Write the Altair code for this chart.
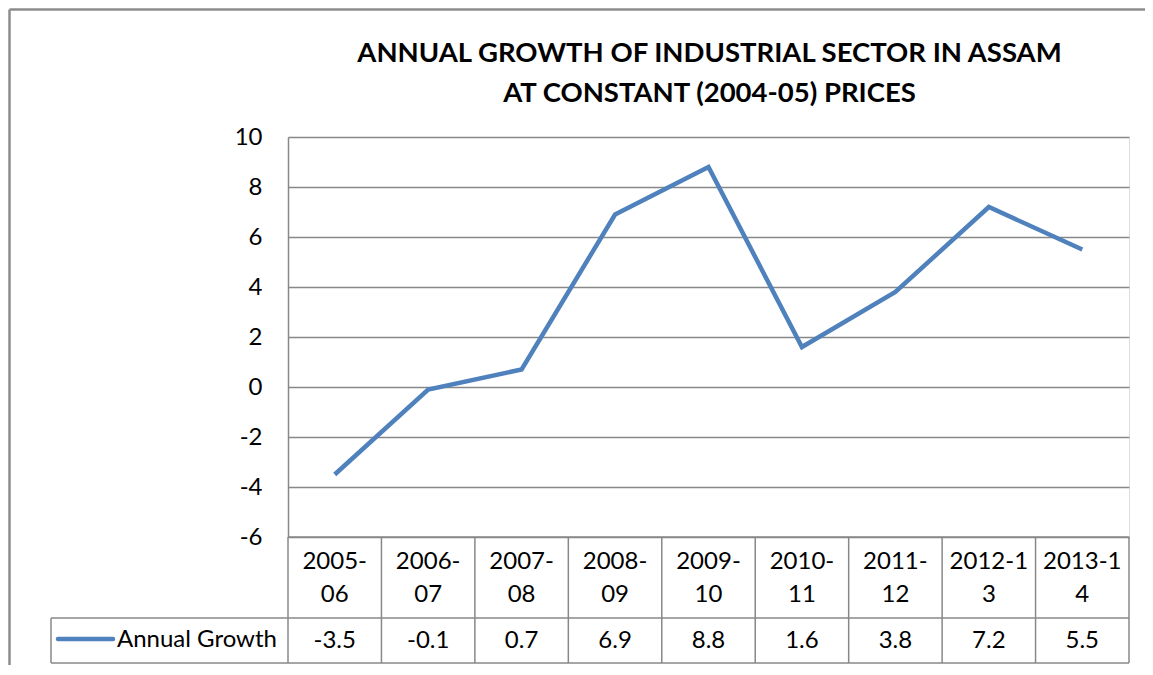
import altair as alt
import pandas as pd

# ---- data ----
years = ["2005-06", "2006-07", "2007-08", "2008-09", "2009-10",
         "2010-11", "2011-12", "2012-13", "2013-14"]
year_labels = ["2005-\n06", "2006-\n07", "2007-\n08", "2008-\n09", "2009-\n10",
               "2010-\n11", "2011-\n12", "2012-1\n3", "2013-1\n4"]
growth = [-3.5, -0.1, 0.7, 6.9, 8.8, 1.6, 3.8, 7.2, 5.5]
series_name = ["Annual Growth"]
title_lines = ["ANNUAL GROWTH OF INDUSTRIAL SECTOR IN ASSAM",
               "AT CONSTANT (2004-05) PRICES"]
y_ticks = [-6, -4, -2, 0, 2, 4, 6, 8, 10]

# ---- layout / style ----
W, H = 841, 400          # plot area
ROW1, ROW2 = 81, 45      # data-table rows
LEG_W = 237              # legend cell width
PAD_L, PAD_T, PAD_R, PAD_B = 280, 129, 16, 128
GREY = "#888888"
BLUE = "#4F81BD"
FONT = "Lato"
FS = 24

n = len(years)
df = pd.DataFrame({
    "idx": list(range(n)),
    "year": years,
    "label": year_labels,
    "value": growth,
    "value_str": [f"{v:.1f}" for v in growth],
})
edges = pd.DataFrame({"edge": [i - 0.5 for i in range(n + 1)]})
one = pd.DataFrame({"name": series_name})
ttl = pd.DataFrame({"t": ["\n".join(title_lines)]})

xscale = alt.Scale(domain=[-0.5, n - 0.5], nice=False, zero=False)
yscale = alt.Scale(domain=[y_ticks[0], y_ticks[-1]], nice=False, zero=False)

line = alt.Chart(df).mark_line(color=BLUE, strokeWidth=4.5, strokeJoin="miter").encode(
    x=alt.X("idx:Q", scale=xscale, axis=None),
    y=alt.Y("value:Q", scale=yscale, axis=alt.Axis(
        values=y_ticks, grid=True, gridColor=GREY, gridWidth=1.5,
        domainColor=GREY, domainWidth=1.5, ticks=False, labelPadding=26,
        labelFont=FONT, labelFontSize=FS, labelColor="black",
        labelExpr="'' + datum.value", title=None)),
)

# data table: vertical borders
vlines = alt.Chart(edges).mark_rule(color=GREY, strokeWidth=1.5).encode(
    x=alt.X("edge:Q", scale=xscale),
    y=alt.value(H), y2=alt.value(H + ROW1 + ROW2),
)
base1 = alt.Chart(one)
hline1 = base1.mark_rule(color=GREY, strokeWidth=1.5).encode(
    x=alt.value(-LEG_W), x2=alt.value(W), y=alt.value(H + ROW1))
hline2 = base1.mark_rule(color=GREY, strokeWidth=1.5).encode(
    x=alt.value(-LEG_W), x2=alt.value(W), y=alt.value(H + ROW1 + ROW2))
hline0 = base1.mark_rule(color=GREY, strokeWidth=1.5).encode(
    x=alt.value(0), x2=alt.value(W), y=alt.value(H))
vleg = base1.mark_rule(color=GREY, strokeWidth=1.5).encode(
    x=alt.value(-LEG_W), y=alt.value(H + ROW1), y2=alt.value(H + ROW1 + ROW2))

# outer chart border (left and top)
bleft = base1.mark_rule(color="#8c8c8c", strokeWidth=2.5).encode(
    x=alt.value(-PAD_L + 1.5), y=alt.value(-PAD_T + 1.5), y2=alt.value(H + PAD_B))
btop = base1.mark_rule(color="#8c8c8c", strokeWidth=2.5).encode(
    x=alt.value(-PAD_L + 1.5), x2=alt.value(W + PAD_R), y=alt.value(-PAD_T + 1.5))

# chart title (two lines, centred over the plot area)
title = alt.Chart(ttl).mark_text(
    font=FONT, fontSize=27.5, fontWeight="bold", lineBreak="\n", lineHeight=40,
    baseline="alphabetic", align="center", color="black").encode(
    x=alt.value(W / 2 + 1), y=alt.value(-75), text="t:N")

cat_text = alt.Chart(df).mark_text(
    font=FONT, fontSize=FS, lineBreak="\n", lineHeight=32.5,
    baseline="alphabetic", align="center", color="black").encode(
    x=alt.X("idx:Q", scale=xscale),
    y=alt.value(432),
    text="label:N",
)
val_text = alt.Chart(df).mark_text(
    font=FONT, fontSize=FS, baseline="alphabetic", align="center", color="black").encode(
    x=alt.X("idx:Q", scale=xscale),
    y=alt.value(511),
    text="value_str:N",
)

leg_line = base1.mark_rule(color=BLUE, strokeWidth=4.5, strokeCap="round").encode(
    x=alt.value(-230), x2=alt.value(-175), y=alt.value(502))
leg_text = base1.mark_text(
    font=FONT, fontSize=FS, baseline="alphabetic", align="left", color="black").encode(
    x=alt.value(-171), y=alt.value(510), text="name:N")

chart = alt.layer(
    bleft, btop, line, hline0, hline1, hline2, vlines, vleg,
    title, cat_text, val_text, leg_line, leg_text,
).properties(
    width=W, height=H,
    autosize=alt.AutoSizeParams(type="none"),
    padding={"left": PAD_L, "top": PAD_T, "right": PAD_R, "bottom": PAD_B},
).configure_view(stroke=None).configure(background="white")

chart.save("out.html", embed_options={"renderer": "svg", "actions": False})
